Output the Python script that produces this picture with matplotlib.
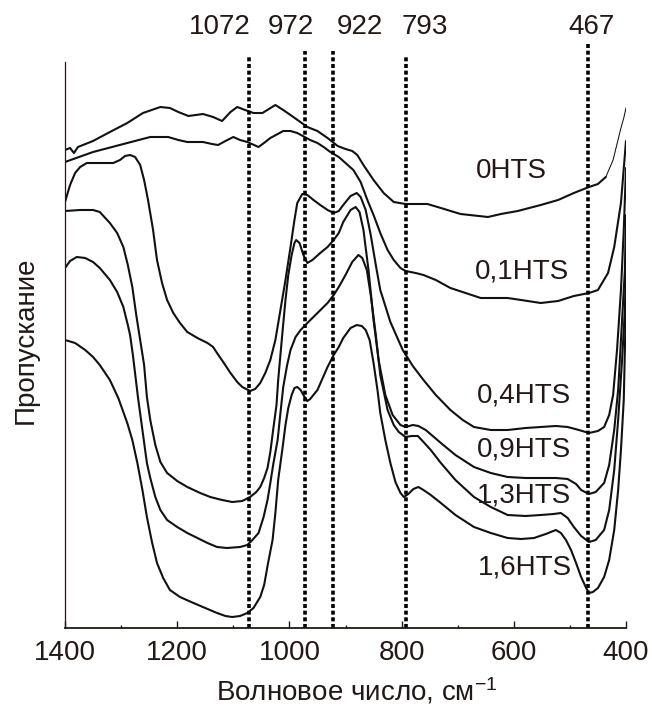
import numpy as np
import matplotlib
matplotlib.use("Agg")
import matplotlib.pyplot as plt

plt.rcParams["font.family"] = ["Liberation Sans", "DejaVu Sans"]
plt.rcParams["mathtext.fontset"] = "custom"
plt.rcParams["mathtext.rm"] = "Liberation Sans"
plt.rcParams["mathtext.it"] = "Liberation Sans:italic"
plt.rcParams["mathtext.default"] = "regular"

INK = "#231815"
LINE = "#111111"

# IR transmission spectra: (wavenumber, cm^-1; transmittance, a.u.)
spec_0 = np.array([
    (1400, 95.6), (1391, 96.0), (1384, 95.0), (1377, 96.2), (1350, 97.4),
    (1320, 99.2), (1289, 101.0), (1261, 103.0), (1230, 104.2), (1213, 104.0),
    (1198, 103.2), (1180, 102.4), (1154, 102.8), (1136, 102.2), (1120, 101.4),
    (1105, 103.2), (1093, 104.2), (1079, 103.6), (1064, 103.0), (1048, 103.0),
    (1025, 104.6), (1011, 103.6), (993, 102.2), (968, 100.2), (950, 99.4),
    (932, 98.0), (914, 96.4), (900, 95.8), (888, 95.4), (879, 94.6),
    (868, 92.6), (850, 89.6), (832, 87.0), (814, 85.2), (793, 84.8),
    (754, 84.8), (730, 84.0), (695, 82.8), (646, 82.2), (623, 82.8),
    (593, 83.4), (552, 84.6), (521, 85.6), (493, 87.0), (466, 88.2),
    (450, 88.8), (436, 90.2),
])
# low-wavenumber end of the 0HTS trace (drawn with a thin pen)
spec_0_tail = np.array([
    (436, 90.2), (423, 93.6), (413, 98.2), (409, 100.0), (404, 102.0), (400, 104.0),
])

spec_01 = np.array([
    (1400, 93.2), (1350, 95.2), (1289, 97.0), (1248, 98.2), (1216, 98.2),
    (1198, 97.6), (1182, 97.2), (1154, 97.2), (1138, 96.8), (1127, 96.6),
    (1114, 97.4), (1100, 98.2), (1088, 97.6), (1075, 97.2), (1055, 96.2),
    (1043, 97.2), (1034, 98.0), (1011, 99.4), (998, 99.4), (986, 99.0),
    (963, 97.6), (950, 97.0), (939, 96.2), (927, 95.2), (912, 94.2),
    (896, 92.6), (886, 91.6), (873, 89.2), (861, 85.6), (850, 82.6),
    (838, 79.0), (825, 75.6), (814, 73.6), (802, 72.0), (793, 71.4),
    (775, 71.0), (761, 70.6), (739, 69.6), (713, 68.0), (686, 67.0),
    (659, 66.0), (632, 66.0), (611, 66.0), (587, 65.6), (552, 65.0),
    (521, 65.4), (493, 66.4), (466, 67.0), (450, 67.6), (432, 71.0),
    (421, 76.2), (409, 85.0), (400, 97.4),
])

spec_04 = np.array([
    (1400, 85.2), (1391, 88.6), (1382, 91.0), (1373, 92.2), (1361, 93.0),
    (1332, 93.0), (1314, 93.0), (1302, 93.6), (1293, 94.4), (1284, 94.6),
    (1275, 94.2), (1266, 92.6), (1259, 89.6), (1252, 85.6), (1243, 79.6),
    (1236, 73.6), (1227, 69.0), (1218, 65.6), (1207, 63.0), (1195, 61.0),
    (1182, 59.2), (1164, 58.0), (1146, 57.0), (1136, 56.2), (1129, 55.0),
    (1118, 53.2), (1105, 51.0), (1093, 49.2), (1084, 48.2), (1070, 47.4),
    (1061, 47.8), (1052, 49.0), (1043, 51.0), (1034, 53.6), (1025, 57.6),
    (1016, 63.6), (1007, 69.6), (998, 76.2), (991, 81.6), (986, 85.0),
    (977, 86.8), (968, 86.6), (957, 85.6), (945, 84.6), (932, 83.6),
    (921, 83.0), (912, 83.4), (904, 84.6), (891, 86.4), (880, 87.0),
    (873, 86.2), (864, 83.6), (855, 78.6), (846, 72.6), (838, 67.6),
    (820, 61.2), (798, 55.6), (780, 52.4), (761, 49.6), (739, 46.6),
    (713, 43.6), (691, 41.6), (671, 40.2), (641, 39.6), (611, 39.6),
    (579, 40.0), (552, 40.2), (525, 40.4), (504, 40.2), (484, 39.6),
    (466, 39.0), (450, 39.4), (439, 40.2), (430, 42.6), (423, 46.6),
    (416, 55.6), (409, 67.6), (404, 79.6), (400, 92.0),
])

spec_09 = np.array([
    (1400, 83.4), (1373, 83.6), (1350, 83.6), (1338, 83.2), (1320, 81.0),
    (1307, 79.0), (1296, 76.2), (1288, 72.6), (1280, 68.2), (1273, 62.6),
    (1266, 57.6), (1259, 52.6), (1254, 46.2), (1248, 41.6), (1239, 36.6),
    (1230, 33.2), (1218, 31.0), (1200, 29.4), (1182, 28.2), (1159, 27.0),
    (1141, 26.2), (1120, 25.6), (1102, 25.2), (1084, 25.4), (1070, 26.2),
    (1059, 27.2), (1052, 28.2), (1045, 30.0), (1039, 32.0), (1034, 35.2),
    (1029, 39.6), (1023, 44.6), (1020, 49.6), (1016, 54.6), (1012, 59.6),
    (1007, 65.6), (1002, 70.6), (996, 74.6), (991, 77.0), (988, 77.6),
    (982, 77.0), (975, 74.6), (968, 73.0), (959, 73.6), (945, 75.0),
    (932, 76.2), (921, 77.6), (912, 79.0), (904, 81.2), (891, 83.6),
    (882, 84.2), (875, 83.2), (868, 79.6), (859, 71.6), (850, 61.6),
    (841, 53.6), (829, 46.6), (816, 42.6), (802, 40.6), (793, 40.2),
    (780, 40.6), (770, 40.4), (757, 39.6), (730, 37.0), (704, 34.6),
    (671, 32.2), (641, 31.0), (611, 30.2), (579, 30.0), (552, 30.0),
    (525, 30.0), (504, 29.8), (489, 28.8), (480, 27.6), (466, 26.8),
    (454, 27.2), (439, 29.0), (430, 32.6), (421, 39.6), (414, 47.6),
    (407, 61.6), (402, 71.6), (400, 82.6),
])

spec_13 = np.array([
    (1400, 72.0), (1391, 73.4), (1379, 74.2), (1364, 74.0), (1350, 73.2),
    (1338, 72.0), (1320, 69.6), (1307, 67.2), (1296, 64.2), (1288, 60.6),
    (1284, 58.6), (1279, 54.6), (1270, 46.2), (1262, 39.6), (1254, 33.0),
    (1248, 30.0), (1239, 26.2), (1230, 23.6), (1218, 21.6), (1200, 20.2),
    (1182, 19.0), (1164, 18.0), (1146, 17.0), (1129, 16.2), (1111, 16.0),
    (1088, 16.2), (1075, 16.6), (1066, 17.6), (1055, 19.0), (1046, 22.2),
    (1039, 25.6), (1034, 29.0), (1029, 32.6), (1021, 37.6), (1016, 43.0),
    (1011, 48.2), (1004, 52.6), (998, 55.6), (989, 58.2), (980, 59.6),
    (968, 61.0), (950, 63.0), (932, 65.0), (921, 66.6), (912, 68.2),
    (900, 70.6), (888, 73.2), (877, 74.6), (870, 74.0), (862, 71.6),
    (855, 66.6), (846, 58.6), (838, 50.6), (825, 43.6), (814, 40.6),
    (805, 39.2), (793, 38.2), (782, 38.4), (771, 38.4), (761, 37.2),
    (748, 35.6), (730, 33.0), (704, 29.6), (671, 26.2), (641, 24.2),
    (611, 22.6), (579, 22.4), (552, 22.6), (529, 22.8), (516, 23.0),
    (504, 22.0), (493, 20.2), (480, 18.4), (466, 17.2), (454, 17.6),
    (439, 19.6), (430, 23.6), (421, 31.6), (414, 41.6), (407, 53.6),
    (402, 63.6), (400, 73.2),
])

spec_16 = np.array([
    (1400, 57.6), (1382, 57.0), (1364, 55.6), (1350, 54.2), (1338, 52.6),
    (1320, 49.6), (1305, 46.0), (1289, 41.0), (1280, 37.6), (1271, 33.0),
    (1262, 27.6), (1254, 22.2), (1245, 17.2), (1236, 13.0), (1225, 10.0),
    (1213, 7.6), (1195, 6.2), (1171, 5.0), (1150, 4.0), (1129, 3.0),
    (1114, 2.4), (1102, 2.2), (1088, 2.4), (1075, 3.0), (1064, 4.0),
    (1052, 6.2), (1045, 8.6), (1038, 13.0), (1030, 17.6), (1025, 23.0),
    (1020, 29.6), (1012, 36.2), (1007, 40.6), (1002, 44.0), (996, 46.6),
    (991, 48.0), (986, 48.2), (980, 47.6), (973, 46.2), (968, 45.4),
    (963, 45.8), (950, 47.6), (932, 52.2), (921, 54.6), (912, 56.2),
    (904, 58.0), (891, 60.0), (880, 60.6), (871, 60.4), (864, 59.6),
    (857, 57.6), (850, 53.0), (843, 47.6), (838, 43.0), (829, 37.6),
    (820, 33.0), (811, 29.2), (802, 27.0), (796, 26.2), (788, 26.8),
    (779, 27.8), (770, 28.2), (761, 27.6), (748, 26.6), (730, 25.0),
    (704, 22.6), (671, 20.2), (641, 19.0), (611, 18.0), (587, 17.8),
    (564, 18.0), (543, 18.8), (525, 19.6), (516, 19.0), (507, 17.6),
    (498, 15.6), (489, 13.0), (480, 10.2), (471, 8.0), (466, 7.0),
    (459, 7.2), (450, 8.0), (439, 10.2), (430, 13.6), (421, 19.6),
    (414, 27.6), (409, 35.6), (404, 45.6), (400, 65.6),
])

samples = ["0HTS", "0,1HTS", "0,4HTS", "0,9HTS", "1,3HTS", "1,6HTS"]
spectra = [spec_0, spec_01, spec_04, spec_09, spec_13, spec_16]

# characteristic absorption bands, cm^-1
bands = [1072, 972, 922, 793, 467]

# placement of the annotations
band_line_top = [114.4, 115.4, 115.4, 114.6, 117.2]
band_label_x = [1125, 998, 875, 759, 461]
band_label_y = 118.8
sample_label_x = [604, 586, 582, 582, 582, 580]
sample_label_y = [90.0, 70.0, 45.2, 34.4, 25.2, 10.6]

W, H = 652, 708
fig = plt.figure(figsize=(W / 100, H / 100), dpi=100)
ax = fig.add_axes([65 / W, 1 - 628 / H, (626 - 65) / W, (628 - 62) / H])

for spec in spectra:
    ax.plot(spec[:, 0], spec[:, 1], color=LINE, lw=1.5,
            solid_joinstyle="round", solid_capstyle="round")
ax.plot(spec_0_tail[:, 0], spec_0_tail[:, 1], color=LINE, lw=0.75)

dot_lw = 2.6
for b, top in zip(bands, band_line_top):
    ax.plot([b, b], [0, top], color="black", lw=dot_lw,
            linestyle=(0, (2.9 / dot_lw, 1.9 / dot_lw)), clip_on=False,
            dash_capstyle="butt")

for b, x in zip(bands, band_label_x):
    ax.text(x, band_label_y, str(b), ha="center", va="baseline",
            fontsize=20, color=INK, clip_on=False)

for name, x, y in zip(samples, sample_label_x, sample_label_y):
    ax.text(x, y, name, ha="center", va="baseline", fontsize=20, color=INK)

ax.set_xlim(1400, 400)
ax.set_ylim(0, 113.2)
ax.set_xticks([1400, 1200, 1000, 800, 600, 400])
ax.set_xticks(np.arange(1300, 400, -200), minor=True)
ax.set_yticks([])
ax.tick_params(axis="x", which="major", direction="in", length=5, width=1.0,
               color=INK, labelsize=20, labelcolor=INK, pad=8.5)
ax.tick_params(axis="x", which="minor", direction="in", length=2.5, width=1.0,
               color=INK)
for side in ("top", "right"):
    ax.spines[side].set_visible(False)
ax.spines["left"].set_linewidth(0.9)
ax.spines["bottom"].set_linewidth(1.3)
ax.spines["left"].set_color(INK)
ax.spines["bottom"].set_color(INK)
ax.patch.set_alpha(0)

fig.text(357 / W, 1 - 701 / H, "Волновое число, см$^{-1}$", ha="center",
         va="baseline", fontsize=20, color=INK)
fig.text(33 / W, 1 - 340 / H, "Пропускание", rotation=90, rotation_mode="anchor",
         ha="center", va="baseline", fontsize=20, color=INK)

fig.savefig("out.png", dpi=100, facecolor="white")
